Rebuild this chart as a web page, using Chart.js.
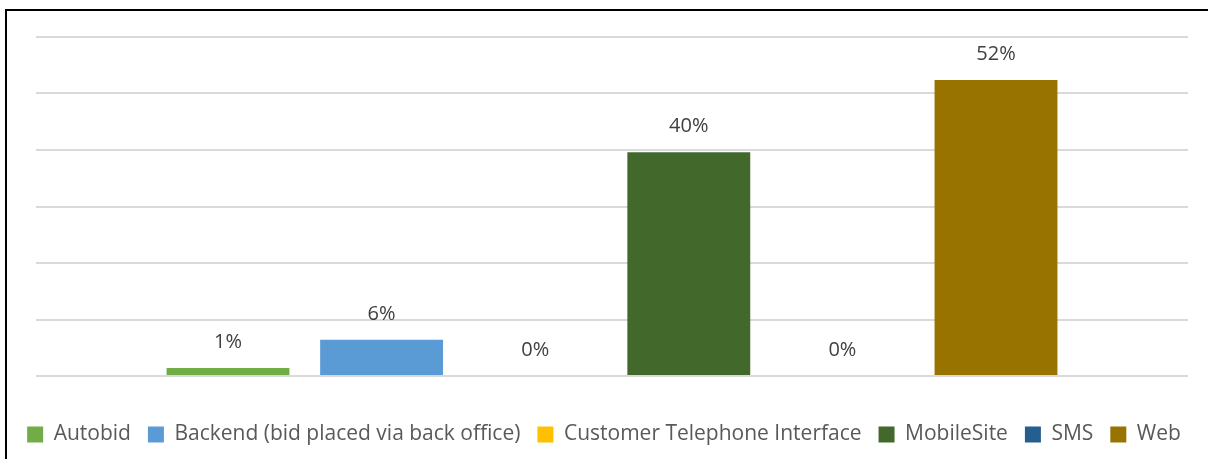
<!DOCTYPE html>
<html>
<head>
<meta charset="utf-8">
<script src="https://cdn.jsdelivr.net/npm/chart.js@4.4.1/dist/chart.umd.min.js"></script>
<style>
  html, body { margin: 0; padding: 0; background: #fff; overflow: hidden; }
  #wrap { position: absolute; left: 0; top: 0; width: 1208px; height: 459px; }
  #frame { position: absolute; left: 5px; top: 9px; width: 1210px; height: 460px;
           border-top: 2px solid #000; border-left: 2px solid #000; box-sizing: border-box; pointer-events: none; }
</style>
</head>
<body>
<div id="wrap"><canvas id="bids" width="1208" height="459"></canvas></div>
<div id="frame"></div>
<script>
// channel shares (%)
const channels = ["Autobid", "Backend (bid placed via back office)", "Customer Telephone Interface", "MobileSite", "SMS", "Web"];
const shares = [1.4, 6.4, 0, 39.6, 0, 52.4];
const colours = ["#70ad47", "#5b9bd5", "#ffc000", "#43682b", "#255e91", "#997300"];
const yTicks = [0, 10, 20, 30, 40, 50, 60];

const FONT = "'Open Sans', 'Noto Sans', sans-serif";

/* value labels above each bar */
const barLabels = {
  id: "barLabels",
  afterDatasetsDraw(chart) {
    const ctx = chart.ctx;
    ctx.save();
    ctx.font = "20px " + FONT;
    ctx.fillStyle = "#404040";
    ctx.textAlign = "center";
    ctx.textBaseline = "middle";
    chart.data.datasets.forEach((ds, i) => {
      const bar = chart.getDatasetMeta(i).data[0];
      ctx.fillText(Math.round(ds.data[0]) + "%", bar.x, bar.y - 26);
    });
    ctx.restore();
  }
};

// empty axes used only as spacers so the legend can use the full width
const spacer = (size, horiz) => ({
  display: true,
  grid: { display: false },
  ticks: { display: false },
  border: { display: false },
  afterFit: s => { if (horiz) s.height = size; else s.width = size; }
});

new Chart(document.getElementById("bids"), {
  type: "bar",
  data: {
    labels: [""],
    datasets: channels.map((c, i) => ({
      label: c,
      data: [shares[i]],
      backgroundColor: colours[i],
      categoryPercentage: 0.8,
      barPercentage: 0.8
    }))
  },
  options: {
    responsive: false,
    animation: false,
    layout: { padding: { left: 0, right: 0, top: 37, bottom: 4 } },
    plugins: {
      legend: {
        position: "bottom",
        labels: {
          font: { family: FONT, size: 21 },
          color: "#595959",
          boxWidth: 16,
          boxHeight: 16,
          padding: 17
        }
      },
      tooltip: { enabled: false }
    },
    scales: {
      x: spacer(31, true),
      y: {
        min: yTicks[0],
        max: yTicks[yTicks.length - 1],
        afterBuildTicks: s => { s.ticks = yTicks.map(v => ({ value: v })); },
        afterFit: s => { s.width = 36; },
        ticks: { display: false },
        border: { display: false },
        grid: { color: "#d9d9d9", lineWidth: 2, drawTicks: false }
      },
      yRight: Object.assign(spacer(20, false), { position: "right", min: 0, max: 60 })
    }
  },
  plugins: [barLabels]
});
</script>
</body>
</html>
